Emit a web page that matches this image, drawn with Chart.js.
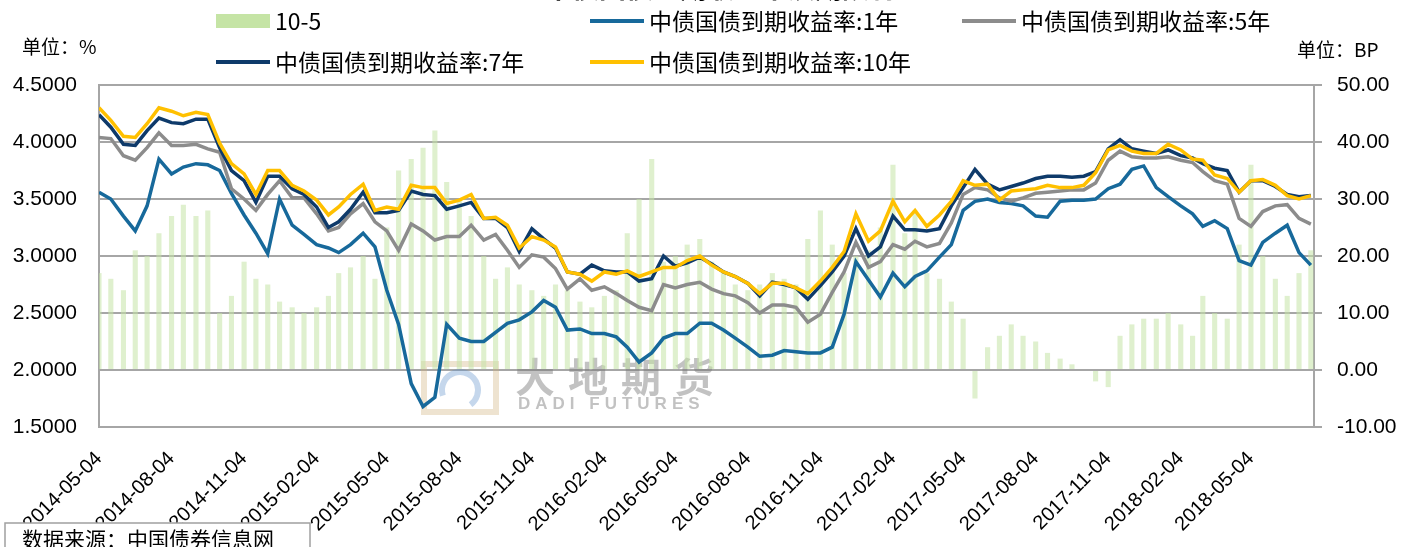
<!DOCTYPE html>
<html>
<head>
<meta charset="utf-8">
<script src="https://cdn.jsdelivr.net/npm/chart.js@4.4.1/dist/chart.umd.min.js"></script>
<style>
  html, body { margin: 0; padding: 0; background: #fff; }
  #chart { display: block; }
</style>
</head>
<body>
<canvas id="chart" width="1401" height="547"></canvas>
<script>
// sample dates, about every half month
const dates = [
  '2014-05-04','2014-05-19','2014-06-04','2014-06-19','2014-07-04','2014-07-19','2014-08-04','2014-08-19',
  '2014-09-04','2014-09-19','2014-10-04','2014-10-19','2014-11-04','2014-11-19','2014-12-04','2014-12-19',
  '2015-01-04','2015-01-19','2015-02-04','2015-02-19','2015-03-04','2015-03-19','2015-04-04','2015-04-19',
  '2015-05-04','2015-05-19','2015-06-04','2015-06-19','2015-07-04','2015-07-19','2015-08-04','2015-08-19',
  '2015-09-04','2015-09-19','2015-10-04','2015-10-19','2015-11-04','2015-11-19','2015-12-04','2015-12-19',
  '2016-01-04','2016-01-19','2016-02-04','2016-02-19','2016-03-04','2016-03-19','2016-04-04','2016-04-19',
  '2016-05-04','2016-05-19','2016-06-04','2016-06-19','2016-07-04','2016-07-19','2016-08-04','2016-08-19',
  '2016-09-04','2016-09-19','2016-10-04','2016-10-19','2016-11-04','2016-11-19','2016-12-04','2016-12-19',
  '2017-01-04','2017-01-19','2017-02-04','2017-02-19','2017-03-04','2017-03-19','2017-04-04','2017-04-19',
  '2017-05-04','2017-05-19','2017-06-04','2017-06-19','2017-07-04','2017-07-19','2017-08-04','2017-08-19',
  '2017-09-04','2017-09-19','2017-10-04','2017-10-19','2017-11-04','2017-11-19','2017-12-04','2017-12-19',
  '2018-01-04','2018-01-19','2018-02-04','2018-02-19','2018-03-04','2018-03-19','2018-04-04','2018-04-19',
  '2018-05-04','2018-05-19','2018-06-04','2018-06-19','2018-07-04','2018-07-19'
];

// 中债国债到期收益率 (%)
const yield1y = [
  3.56,3.50,3.35,3.22,3.44,3.85,3.72,3.78,3.81,3.80,3.75,3.55,3.36,3.20,3.02,3.50,
  3.27,3.19,3.10,3.07,3.03,3.10,3.20,3.08,2.70,2.40,1.88,1.68,1.76,2.40,2.28,
  2.25,2.25,2.33,2.41,2.44,2.51,2.61,2.55,2.35,2.36,2.32,2.32,2.29,2.20,2.07,2.15,
  2.28,2.32,2.32,2.41,2.41,2.35,2.28,2.20,2.12,2.13,2.17,2.16,2.15,2.15,2.20,2.49,
  2.95,2.79,2.64,2.85,2.73,2.82,2.87,
  2.99,3.10,3.40,3.48,3.50,3.47,3.46,3.44,3.35,3.34,3.48,3.49,3.49,3.50,3.59,3.63,
  3.76,3.79,3.60,3.52,3.44,3.37,3.26,3.31,3.24,2.96,2.92,3.12,3.20,3.27,3.03,2.92
];
const yield5y = [
  4.04,4.03,3.88,3.84,3.95,4.08,3.97,3.97,3.98,3.94,3.91,3.59,3.50,3.40,3.54,3.66,
  3.51,3.51,3.37,3.22,3.25,3.37,3.46,3.30,3.22,3.05,3.28,3.22,3.14,3.17,3.17,
  3.27,3.14,3.19,3.05,2.90,3.01,2.99,2.89,2.71,2.80,2.70,2.73,2.67,2.61,2.55,2.52,
  2.75,2.72,2.75,2.77,2.71,2.67,2.65,2.59,2.50,2.57,2.57,2.55,2.42,2.49,2.68,2.86,
  3.12,2.90,2.95,3.10,3.06,3.13,3.08,
  3.11,3.29,3.54,3.60,3.58,3.51,3.48,3.51,3.55,3.56,3.57,3.58,3.58,3.64,3.84,3.92,
  3.87,3.86,3.86,3.87,3.84,3.82,3.74,3.66,3.63,3.33,3.26,3.39,3.44,3.45,3.33,3.28
];
const yield7y = [
  4.24,4.13,3.98,3.97,4.10,4.21,4.17,4.16,4.20,4.20,3.95,3.75,3.66,3.47,3.70,3.70,
  3.59,3.54,3.43,3.25,3.30,3.41,3.56,3.38,3.38,3.40,3.57,3.54,3.53,3.41,3.44,
  3.47,3.33,3.33,3.25,3.04,3.24,3.15,3.07,2.86,2.84,2.92,2.87,2.86,2.86,2.78,2.80,
  3.00,2.91,2.94,2.99,2.93,2.86,2.82,2.76,2.65,2.77,2.75,2.72,2.62,2.74,2.86,3.00,
  3.24,3.00,3.08,3.35,3.23,3.23,3.22,
  3.24,3.44,3.60,3.76,3.63,3.58,3.61,3.64,3.68,3.70,3.70,3.69,3.70,3.74,3.94,4.02,
  3.94,3.92,3.90,3.93,3.88,3.86,3.81,3.77,3.75,3.56,3.66,3.66,3.61,3.54,3.52,3.53
];
const yield10y = [
  4.30,4.19,4.05,4.04,4.16,4.30,4.27,4.23,4.26,4.24,3.99,3.81,3.72,3.54,3.75,3.75,
  3.62,3.57,3.49,3.36,3.43,3.54,3.63,3.40,3.43,3.41,3.62,3.60,3.60,3.46,3.49,
  3.54,3.33,3.34,3.27,3.07,3.17,3.14,3.08,2.86,2.84,2.78,2.86,2.84,2.87,2.82,2.86,
  2.90,2.90,2.96,3.00,2.92,2.86,2.82,2.76,2.67,2.76,2.76,2.72,2.67,2.78,2.90,3.04,
  3.37,3.13,3.22,3.48,3.30,3.40,3.26,
  3.36,3.48,3.66,3.62,3.63,3.49,3.57,3.58,3.59,3.62,3.60,3.60,3.62,3.73,3.93,3.97,
  3.92,3.90,3.90,3.98,3.93,3.85,3.84,3.71,3.68,3.56,3.66,3.67,3.62,3.53,3.50,3.53
];
// 10-5 spread (BP)
const spread = [
  17,16,14,21,20,24,27,29,27,28,10,13,19,16,15,12,
  11,10,11,13,17,18,20,16,25,35,37,39,42,33,30,
  27,20,16,18,15,14,13,15,14,12,11,13,14,24,30,37,
  19,20,22,23,19,17,15,14,15,17,16,15,23,28,22,17,
  20,21,25,36,24,28,17,
  16,12,9,-5,4,6,8,6,5,3,2,1,0,-2,-3,6,
  8,9,9,10,8,6,13,10,9,22,36,20,16,13,17,21
];

const tickDates = [
  '2014-05-04','2014-08-04','2014-11-04','2015-02-04','2015-05-04','2015-08-04',
  '2015-11-04','2016-02-04','2016-05-04','2016-08-04','2016-11-04','2017-02-04',
  '2017-05-04','2017-08-04','2017-11-04','2018-02-04','2018-05-04'
];

const toMs = s => Date.parse(s);
const pts = arr => dates.map((d, i) => ({x: toMs(d), y: arr[i]}));

const FONT = "'Liberation Sans', Arial, sans-serif";
const CJK = "'Noto Sans CJK SC', sans-serif";
const GRID = '#A6A6A6';

const lineSet = (label, arr, color, order) => ({
  type: 'line', label: label, data: pts(arr), yAxisID: 'y',
  borderColor: color, backgroundColor: color, borderWidth: 3.5,
  pointRadius: 0, tension: 0, order: order,
});

const data = {
  datasets: [
    {
      type: 'bar', label: '10-5', data: pts(spread), yAxisID: 'y1',
      backgroundColor: 'rgba(197,228,165,0.55)', legendColor: '#C5E4A5',
      barPercentage: 0.5, categoryPercentage: 1, order: 9,
    },
    lineSet('中债国债到期收益率:1年', yield1y, '#17699B', 4),
    lineSet('中债国债到期收益率:5年', yield5y, '#8C8C8C', 3),
    lineSet('中债国债到期收益率:7年', yield7y, '#0E3A6A', 2),
    lineSet('中债国债到期收益率:10年', yield10y, '#FFC000', 1),
  ]
};

// legend, unit labels, source box, watermark
const decor = {
  id: 'decor',
  beforeDatasetsDraw(chart) {
    const ctx = chart.ctx;
    ctx.save();
    // watermark logo
    ctx.strokeStyle = 'rgba(205,175,120,0.35)';
    ctx.lineWidth = 6;
    ctx.strokeRect(424, 364, 72, 48);
    ctx.strokeStyle = 'rgba(90,140,200,0.35)';
    ctx.beginPath();
    ctx.arc(460, 390, 18, Math.PI * 0.9, Math.PI * 2.3);
    ctx.stroke();
    ctx.fillStyle = 'rgba(120,120,120,0.45)';
    ctx.textBaseline = 'middle';
    ctx.textAlign = 'left';
    ctx.font = "bold 40px " + CJK;
    ctx.letterSpacing = '13px';
    ctx.fillText('大地期货', 515, 377);
    ctx.font = "bold 17px " + FONT;
    ctx.letterSpacing = '5px';
    ctx.fillText('DADI FUTURES', 518, 404);
    ctx.restore();
  },
  afterDraw(chart) {
    const ctx = chart.ctx;
    ctx.save();
    ctx.textAlign = 'left';
    ctx.fillStyle = '#000';

    // title, only its lower edge is in the picture
    ctx.font = "bold 27px " + CJK;
    ctx.textBaseline = 'alphabetic';
    ctx.fillText('中债国债到期收益率及期限利差', 545, -2);
    ctx.textBaseline = 'middle';

    const slots = [[216, 21], [590, 21], [962, 21], [216, 62], [590, 62]];
    ctx.font = "23px " + CJK;
    chart.data.datasets.forEach((ds, i) => {
      const [x, y] = slots[i];
      if (ds.type === 'bar') {
        ctx.fillStyle = ds.legendColor;
        ctx.fillRect(x, y - 7, 54, 14);
      } else {
        ctx.strokeStyle = ds.borderColor;
        ctx.lineWidth = 4;
        ctx.beginPath();
        ctx.moveTo(x, y);
        ctx.lineTo(x + 54, y);
        ctx.stroke();
      }
      ctx.fillStyle = '#000';
      ctx.fillText(ds.label, x + 59, y);
    });

    ctx.font = "19px " + CJK;
    ctx.fillText('单位：%', 22, 47);
    ctx.fillText('单位：BP', 1297, 50);

    // source box
    ctx.fillStyle = '#fff';
    ctx.fillRect(5, 523, 305, 30);
    ctx.strokeStyle = '#A0A0A0';
    ctx.lineWidth = 1.5;
    ctx.strokeRect(5, 523, 305, 30);
    ctx.fillStyle = '#000';
    ctx.font = "21px " + CJK;
    ctx.fillText('数据来源：中国债券信息网', 22, 539);
    ctx.restore();
  }
};

new Chart(document.getElementById('chart'), {
  type: 'line',
  data: data,
  plugins: [decor],
  options: {
    responsive: false,
    animation: false,
    events: [],
    layout: { padding: { top: 85, left: 0, right: 0, bottom: 0 } },
    plugins: { legend: { display: false }, tooltip: { enabled: false } },
    scales: {
      x: {
        type: 'linear',
        min: toMs('2014-05-04'),
        max: toMs('2018-07-23'),
        offset: false,
        afterBuildTicks: scale => {
          scale.ticks = tickDates.map(d => ({value: toMs(d)}));
        },
        afterFit: scale => { scale.height = 120; },
        grid: { display: false, drawTicks: false },
        border: { display: true, color: GRID, width: 2 },
        ticks: {
          autoSkip: false,
          minRotation: 45,
          maxRotation: 45,
          padding: 20,
          color: '#000',
          font: { family: FONT, size: 20 },
          callback: v => new Date(v).toISOString().slice(0, 10),
        },
      },
      y: {
        position: 'left',
        min: 1.5,
        max: 4.5,
        afterFit: scale => { scale.width = 99; },
        grid: { color: GRID, lineWidth: 2, drawTicks: false },
        border: { color: GRID, width: 2 },
        ticks: {
          stepSize: 0.5,
          padding: 22,
          color: '#000',
          font: { family: FONT, size: 21 },
          callback: v => v.toFixed(4),
        },
      },
      y1: {
        position: 'right',
        min: -10,
        max: 50,
        afterFit: scale => { scale.width = 87; },
        grid: { drawOnChartArea: false, color: GRID, lineWidth: 2, tickLength: 8 },
        border: { color: GRID, width: 2 },
        ticks: {
          stepSize: 10,
          padding: 15,
          color: '#000',
          font: { family: FONT, size: 21 },
          callback: v => v.toFixed(2),
        },
      },
    },
  },
});
</script>
</body>
</html>
